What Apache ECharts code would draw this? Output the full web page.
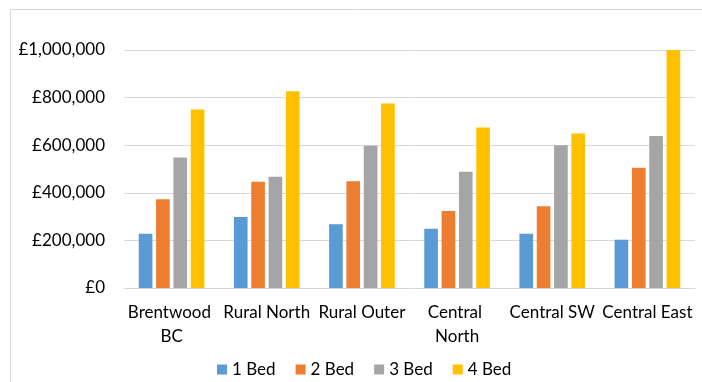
<!DOCTYPE html>
<html>
<head>
<meta charset="utf-8">
<script src="https://cdn.jsdelivr.net/npm/echarts@6/dist/echarts.min.js"></script>
<style>html,body{margin:0;padding:0;background:#fff}#c{width:702px;height:382px}</style>
</head>
<body>
<div id="c"></div>
<script>
const categories = ['Brentwood BC', 'Rural North', 'Rural Outer', 'Central North', 'Central SW', 'Central East'];
const seriesNames = ['1 Bed', '2 Bed', '3 Bed', '4 Bed'];
const bed1 = [228000, 298000, 268000, 249000, 228000, 203000];
const bed2 = [373000, 446000, 449000, 324000, 344000, 505000];
const bed3 = [548000, 467000, 598000, 488000, 600000, 639000];
const bed4 = [750000, 827000, 775000, 674000, 649000, 1000000];
const yTicks = [0, 200000, 400000, 600000, 800000, 1000000];
const colors = ['#5B9BD5', '#ED7D31', '#A5A5A5', '#FFC000'];

const values = [bed1, bed2, bed3, bed4];
const FONT = 'Lato';
const FS = 17;
const chart = echarts.init(document.getElementById('c'), null, {renderer: 'canvas'});
chart.setOption({
  animation: false,
  color: colors,
  textStyle: {fontFamily: FONT},
  graphic: [{
    type: 'rect', shape: {x: 10.5, y: 9.5, width: 720, height: 420},
    style: {fill: 'none', stroke: '#d9d9d9', lineWidth: 1}, silent: true
  }],
  grid: {left: 124, right: 7, top: 50, bottom: 94},
  legend: {
    data: seriesNames, top: 361, left: 217, itemWidth: 10, itemHeight: 10, itemGap: 20,
    padding: 0, icon: 'rect', textStyle: {fontFamily: FONT, fontSize: FS, color: '#000'}
  },
  xAxis: {
    type: 'category', data: categories,
    axisLine: {lineStyle: {color: '#d9d9d9'}}, axisTick: {show: false},
    axisLabel: {fontFamily: FONT, fontSize: FS, color: '#000', margin: 13, lineHeight: 24,
      width: 95, overflow: 'break', interval: 0}
  },
  yAxis: {
    type: 'value', min: yTicks[0], max: yTicks[yTicks.length - 1], interval: yTicks[1] - yTicks[0],
    axisLine: {show: false}, axisTick: {show: false},
    splitLine: {lineStyle: {color: '#d9d9d9'}},
    axisLabel: {fontFamily: FONT, fontSize: FS, color: '#000', margin: 19,
      formatter: v => '£' + v.toLocaleString('en-GB')}
  },
  series: seriesNames.map((n, i) => ({
    name: n, type: 'bar', data: values[i], barCategoryGap: '31%', barGap: '27%',
    itemStyle: {color: colors[i]}
  }))
});
</script>
</body>
</html>
